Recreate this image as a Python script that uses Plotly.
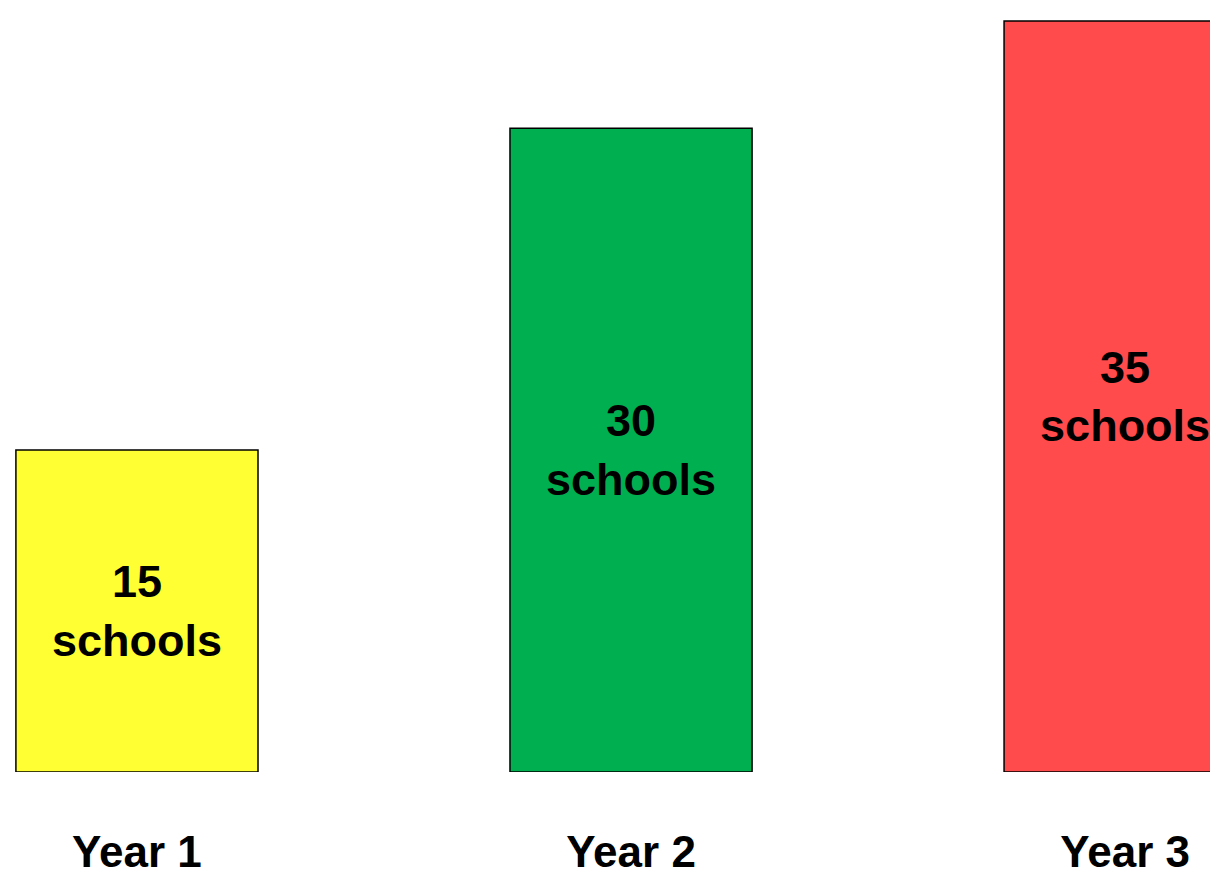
import plotly.graph_objects as go

categories = ["Year 1", "Year 2", "Year 3"]
schools = [15, 30, 35]
bar_colors = ["#FFFF33", "#00B050", "#FF4B4B"]
bar_text = [f"<b>{v}<br>schools</b>" for v in schools]
tick_text = [f"<b>{c}</b>" for c in categories]

fig = go.Figure(go.Bar(
    x=categories,
    y=schools,
    width=0.49,
    marker=dict(color=bar_colors, line=dict(color="black", width=1.5)),
    text=bar_text,
    texttemplate="%{text}",
    textposition="inside",
    insidetextanchor="middle",
    textangle=0,
    constraintext="none",
    textfont=dict(family="Liberation Sans, Arial, sans-serif", size=45, color="black"),
    hoverinfo="skip",
))

fig.update_layout(
    width=1210, height=873,
    margin=dict(l=0, r=0, t=0, b=109, autoexpand=False),
    paper_bgcolor="white", plot_bgcolor="white",
    showlegend=False,
    uniformtext=dict(mode=False),
    xaxis=dict(
        range=[-0.261, 2.188],
        automargin=False,
        tickmode="array", tickvals=categories, ticktext=tick_text,
        tickfont=dict(family="Liberation Sans, Arial, sans-serif", size=44, color="black"),
        showline=False, showgrid=False, zeroline=False, ticks="",
        ticklabelstandoff=50,
    ),
    yaxis=dict(range=[0, 35.6], visible=False, automargin=False,
               showgrid=False, zeroline=False),
)

fig.write_html("out.html")
